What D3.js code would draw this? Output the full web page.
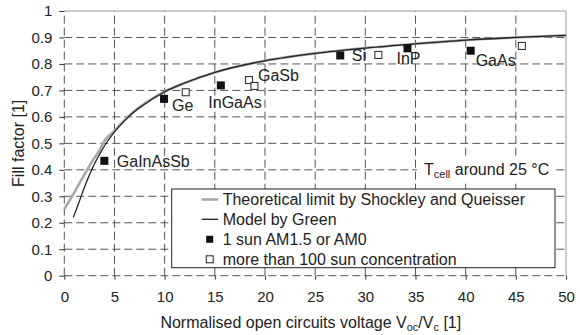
<!DOCTYPE html>
<html><head><meta charset="utf-8">
<script src="https://cdn.jsdelivr.net/npm/d3@7"></script>
<style>
body{margin:0;background:#fff}
text{font-family:"Liberation Sans",Arial,Helvetica,sans-serif;fill:#222}
</style></head>
<body><svg id="c" width="580" height="335"></svg>
<script>
// ---- data ----
const xTicks = [0,5,10,15,20,25,30,35,40,45,50];
const yTicks = [0,0.1,0.2,0.3,0.4,0.5,0.6,0.7,0.8,0.9,1];
const yTickLabels = ["0","0.1","0.2","0.3","0.4","0.5","0.6","0.7","0.8","0.9","1"];

// Theoretical limit by Shockley and Queisser
const sqX = [0,0.5,1,1.5,2,2.5,3,3.5,4,5,6,7,8,10,12,15,20,25,30,35,40,45,50];
const sqY = [0.252,0.283,0.315,0.349,0.382,0.414,0.445,0.473,0.51,0.547,0.588,0.622,0.65,0.695,0.728,0.768,0.812,0.84,0.86,0.876,0.89,0.9,0.908];
// Model by Green
const grX = [0.9,1.5,2,2.5,3,3.5,4,5,6,7,8,10,12,15,20,25,30,35,40,45,50];
const grY = [0.22,0.281,0.333,0.38,0.422,0.457,0.49,0.543,0.585,0.62,0.648,0.695,0.728,0.768,0.812,0.84,0.86,0.876,0.89,0.9,0.908];

// 1 sun AM1.5 or AM0
const oneSunNames = ["GaInAsSb","Ge","InGaAs","Si","InP","GaAs"];
const oneSunX = [3.99,9.94,15.6,27.5,34.2,40.5];
const oneSunY = [0.434,0.668,0.719,0.832,0.859,0.850];
// more than 100 sun concentration
const concNames = ["Ge","GaSb","GaSb","Si","GaAs"];
const concX = [12.1,18.4,18.95,31.3,45.6];
const concY = [0.693,0.739,0.717,0.834,0.868];

const legendLabels = ["Theoretical limit by Shockley and Queisser","Model by Green","1 sun AM1.5 or AM0","more than 100 sun concentration"];

// ---- layout / style ----
const svg = d3.select("#c");
const x = d3.scaleLinear().domain([0,50]).range([64.3,566]);
const y = d3.scaleLinear().domain([0,1]).range([275.7,11]);
const gridColor = "#555";

// gridlines (dashed)
const g = svg.append("g");
g.selectAll(".vg").data(xTicks.filter(d=>d<50)).enter().append("line")
  .attr("x1",d=>x(d)).attr("x2",d=>x(d)).attr("y1",y(0)).attr("y2",y(1))
  .attr("stroke",gridColor).attr("stroke-width",1).attr("stroke-dasharray","8,4");
g.selectAll(".hg").data(yTicks.filter(d=>d<1)).enter().append("line")
  .attr("x1",x(0)).attr("x2",x(50)).attr("y1",d=>y(d)).attr("y2",d=>y(d))
  .attr("stroke",gridColor).attr("stroke-width",1).attr("stroke-dasharray","8,4");
// top & right border
svg.append("path").attr("d",`M${x(0)},${y(1)}H${x(50)}V${y(0)}`)
  .attr("fill","none").attr("stroke","#999").attr("stroke-width",1);

// axes
const yAxis = d3.axisLeft(y).tickValues(yTicks).tickSize(5).tickPadding(7)
  .tickFormat((d,i)=>yTickLabels[i]);
const ya = svg.append("g").attr("transform",`translate(${x(0)},0)`).call(yAxis);
ya.select(".domain").remove();
ya.selectAll("line").attr("stroke","#333");
ya.selectAll("text").attr("font-size",15).style("fill","#222")
  .attr("font-family","Liberation Sans, Arial, sans-serif");

const xAxis = d3.axisBottom(x).tickValues(xTicks).tickSize(4).tickPadding(12)
  .tickFormat(d3.format("d"));
const xa = svg.append("g").attr("transform",`translate(0,${y(0)})`).call(xAxis);
xa.select(".domain").remove();
xa.selectAll("line").attr("stroke","#333");
xa.selectAll("text").attr("font-size",15).style("fill","#222")
  .attr("font-family","Liberation Sans, Arial, sans-serif");

// curves
const line = d3.line().x(d=>x(d[0])).y(d=>y(d[1])).curve(d3.curveMonotoneX);
svg.append("path").datum(sqX.map((v,i)=>[v,sqY[i]])).attr("d",line)
  .attr("fill","none").attr("stroke","#a8a8a8").attr("stroke-width",2.6);
svg.append("path").datum(grX.map((v,i)=>[v,grY[i]])).attr("d",line)
  .attr("fill","none").attr("stroke","#222").attr("stroke-width",1.3);

// markers
const sq = 8;
svg.selectAll(".one").data(oneSunX).enter().append("rect")
  .attr("x",(d)=>x(d)-sq/2).attr("y",(d,i)=>y(oneSunY[i])-sq/2)
  .attr("width",sq).attr("height",sq).attr("fill","#111");
svg.selectAll(".conc").data(concX).enter().append("rect")
  .attr("x",(d)=>x(d)-(sq-1)/2).attr("y",(d,i)=>y(concY[i])-(sq-1)/2)
  .attr("width",sq-1).attr("height",sq-1).attr("fill","#fff").attr("stroke","#222").attr("stroke-width",1);

// point labels (offsets in px relative to point)
const labelOffsets = {
  "GaInAsSb":{dx:12.5,dy:6},
  "Ge":{dx:8,dy:12.5},
  "InGaAs":{dx:-12.5,dy:23},
  "Si":{dx:11.5,dy:6},
  "InP":{dx:-11,dy:15.5},
  "GaAs":{dx:5,dy:15.5}
};
oneSunNames.forEach((n,i)=>{
  const o = labelOffsets[n];
  svg.append("text").attr("x",x(oneSunX[i])+o.dx).attr("y",y(oneSunY[i])+o.dy)
    .attr("font-size",16).text(n);
});
// GaSb label next to the concentration points
svg.append("text").attr("x",x(concX[2])+3.5).attr("y",y(concY[2])-4.5)
  .attr("font-size",16).text(concNames[2]);

// T_cell note
const note = svg.append("g");
note.append("rect").attr("x",417).attr("y",156).attr("width",139).attr("height",26).attr("fill","#fff");
const nt = note.append("text").attr("x",424).attr("y",175).attr("font-size",16);
nt.append("tspan").text("T");
nt.append("tspan").attr("font-size",11).attr("dy",3).text("cell");
nt.append("tspan").attr("dy",-3).text(" around 25 °C");

// legend
const lg = svg.append("g");
lg.append("rect").attr("x",171.7).attr("y",189).attr("width",383.3).attr("height",78.7)
  .attr("fill","#fff").attr("stroke","#222").attr("stroke-width",1);
const rowY = [199.5,219.3,239.3,259.3];
lg.append("line").attr("x1",201.7).attr("x2",218).attr("y1",rowY[0]).attr("y2",rowY[0])
  .attr("stroke","#a8a8a8").attr("stroke-width",2.6);
lg.append("line").attr("x1",201.7).attr("x2",218).attr("y1",rowY[1]).attr("y2",rowY[1])
  .attr("stroke","#222").attr("stroke-width",1.3);
lg.append("rect").attr("x",209.7-3.5).attr("y",rowY[2]-3.5).attr("width",7).attr("height",7).attr("fill","#111");
lg.append("rect").attr("x",209.7-3.5).attr("y",rowY[3]-3.5).attr("width",7).attr("height",7)
  .attr("fill","#fff").attr("stroke","#222");
legendLabels.forEach((t,i)=>{
  lg.append("text").attr("x",222.7).attr("y",rowY[i]+5.7).attr("font-size",16).text(t);
});

// axis titles
const xt = svg.append("text").attr("x",310.8).attr("y",327.7).attr("text-anchor","middle").attr("font-size",16);
xt.append("tspan").text("Normalised open circuits voltage V");
xt.append("tspan").attr("font-size",11).attr("dy",3).text("oc");
xt.append("tspan").attr("dy",-3).text("/V");
xt.append("tspan").attr("font-size",11).attr("dy",3).text("c");
xt.append("tspan").attr("dy",-3).text(" [1]");

svg.append("text").attr("transform",`translate(24,${(y(0)+y(1))/2}) rotate(-90)`)
  .attr("text-anchor","middle").attr("font-size",16).text("Fill factor [1]");
</script></body></html>
